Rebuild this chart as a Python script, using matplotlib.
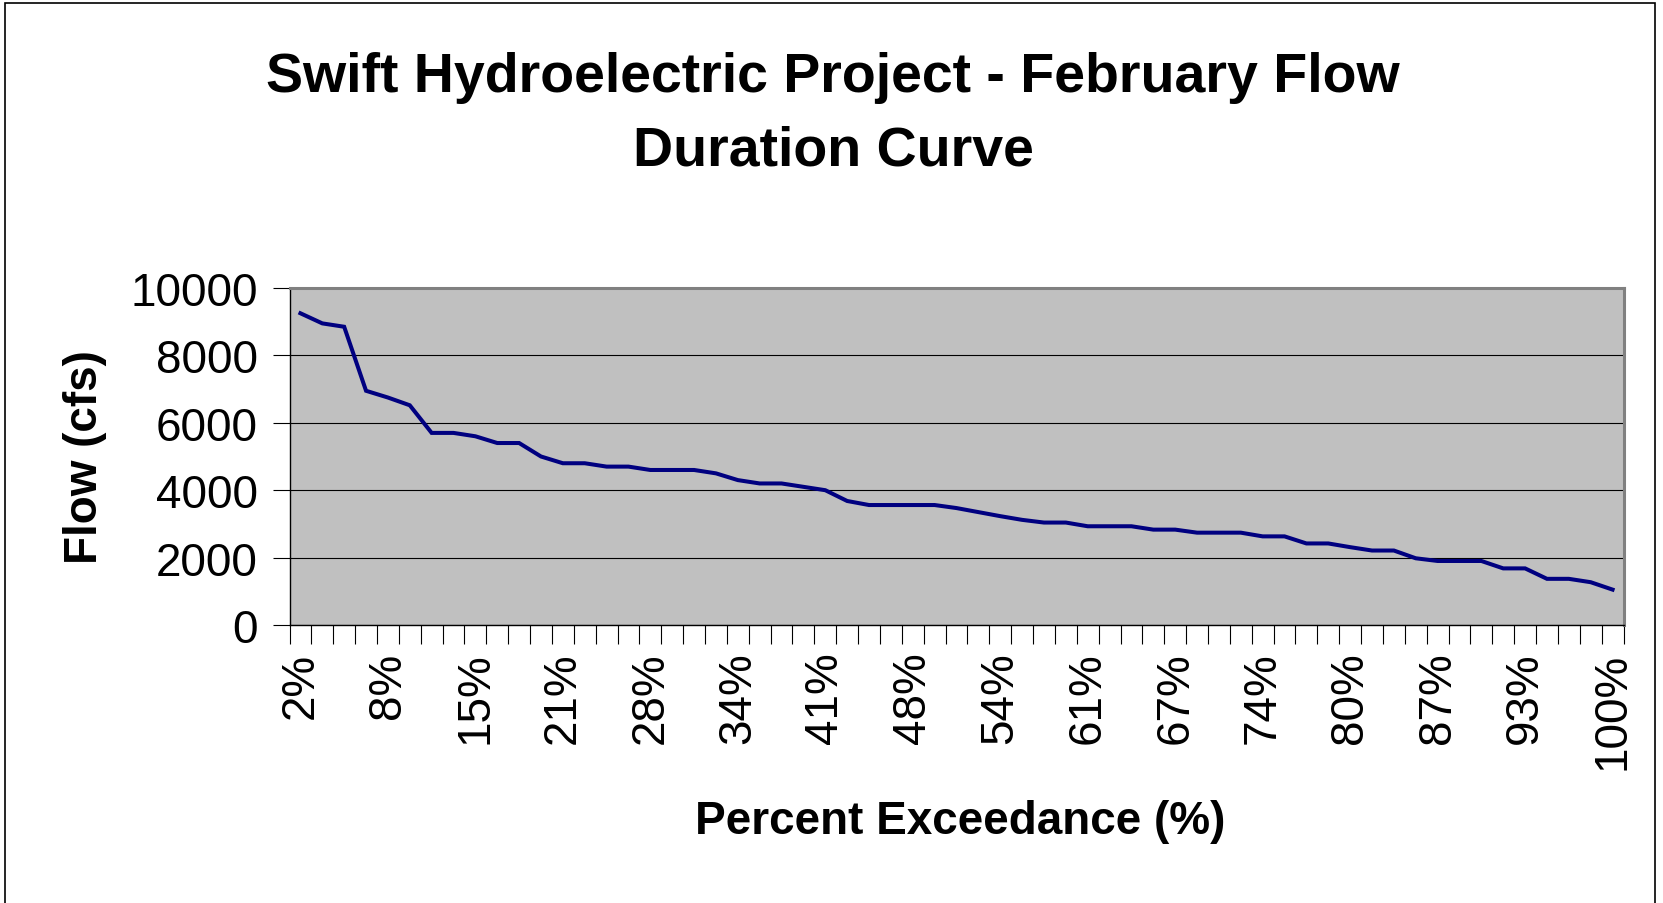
import matplotlib
matplotlib.use("Agg")
import numpy as np
import matplotlib.pyplot as plt
from matplotlib.patches import Rectangle

# percent exceedance for each of the 61 ranked February flows
exceedance = [2, 3, 5, 7, 8, 10, 11, 13, 15, 16, 18, 20, 21, 23, 25, 26, 28, 30, 31, 33,
              34, 36, 38, 39, 41, 43, 44, 46, 48, 49, 51, 52, 54, 56, 57, 59, 61, 62, 64, 66,
              67, 69, 70, 72, 74, 75, 77, 79, 80, 82, 84, 85, 87, 89, 90, 92, 93, 95, 97, 98,
              100]

# flow in cfs
flow = [9250, 8950, 8850, 6950, 6750, 6520, 5700, 5700, 5600, 5400,
        5400, 5000, 4800, 4800, 4700, 4700, 4600, 4600, 4600, 4500,
        4300, 4200, 4200, 4100, 4000, 3680, 3560, 3560, 3560, 3560,
        3470, 3350, 3230, 3120, 3040, 3040, 2930, 2930, 2930, 2830,
        2830, 2740, 2740, 2740, 2630, 2630, 2420, 2420, 2310, 2210,
        2210, 1980, 1900, 1900, 1900, 1680, 1680, 1370, 1370, 1270,
        1050]

y_ticks = [0, 2000, 4000, 6000, 8000, 10000]

plt.rcParams['font.family'] = ['Liberation Sans', 'DejaVu Sans']

W, H = 1663, 904
fig = plt.figure(figsize=(W / 100, H / 100), dpi=100)
fig.patch.set_facecolor("white")

# plot area in pixels: left 289.5, right 1623.6, top 289, bottom 626
ax = fig.add_axes([289.5 / W, 1 - 626 / H, 1334 / W, 337 / H])
ax.set_facecolor("#C0C0C0")

x = np.arange(len(flow))
ax.plot(x, flow, color="#000080", lw=2.9, solid_joinstyle="miter")

ax.set_xlim(-0.5, len(flow) - 0.5)
ax.set_ylim(0, 10000)
ax.set_yticks(y_ticks)
ax.set_yticklabels([str(v) for v in y_ticks])
ax.grid(axis="y", color="black", lw=0.8)
ax.set_axisbelow(True)

# tick marks between categories, labels on every 4th category
ax.set_xticks(np.arange(-0.5, len(flow)))
ax.set_xticklabels([])
lab_pos = x[::4]
ax.set_xticks(lab_pos, minor=True)
ax.set_xticklabels([f"{exceedance[i]}%" for i in lab_pos], minor=True, rotation=90)

ax.tick_params(axis="x", which="major", direction="out", length=14, width=0.8, color="black")
ax.tick_params(axis="x", which="minor", length=0, pad=19, labelsize=33)
ax.tick_params(axis="y", direction="out", length=12, width=0.8, pad=11, labelsize=33)

for side in ["top", "right"]:
    ax.spines[side].set_color("#808080")
    ax.spines[side].set_linewidth(2.2)
for side in ["left", "bottom"]:
    ax.spines[side].set_color("black")
    ax.spines[side].set_linewidth(1.0)

ax.set_ylabel("Flow (cfs)", fontsize=33, fontweight="bold", va="center")
ax.yaxis.set_label_coords((85 - 289.5) / 1334, 0.5)
ax.set_xlabel("Percent Exceedance (%)", fontsize=33, fontweight="bold", va="center")
ax.xaxis.set_label_coords((960 - 289.5) / 1334, (626 - 822) / 337)

# baseline of the last title line
fig.suptitle("Swift Hydroelectric Project - February Flow\nDuration Curve",
             x=833 / W, y=1 - 166 / H, va="baseline", fontsize=40, fontweight="bold",
             linespacing=1.54)

# chart border
fig.patches.append(Rectangle((5 / W, -0.05), 1650 / W, 1.05 - 4 / H, transform=fig.transFigure,
                             fill=False, edgecolor="black", lw=1.2))

fig.savefig("out.png", dpi=100)
